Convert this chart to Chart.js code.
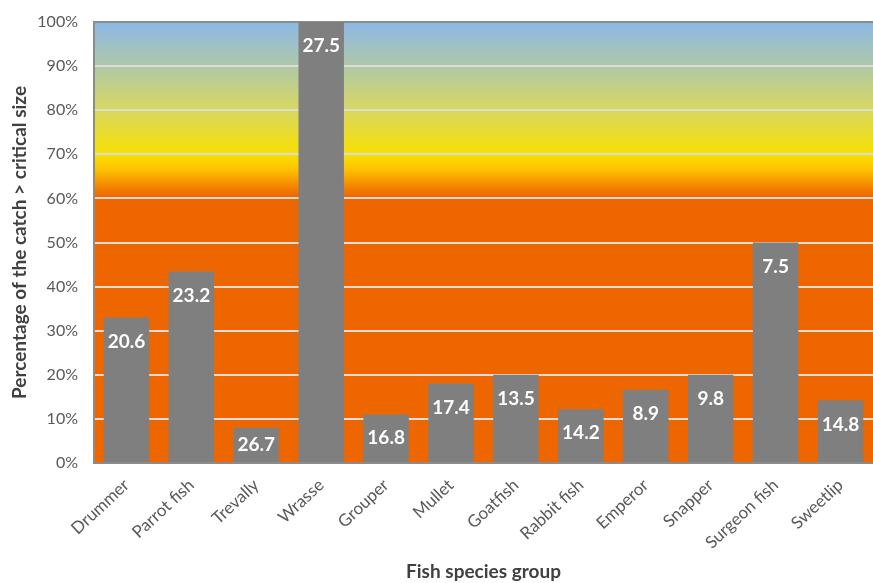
<!DOCTYPE html>
<html lang="en">
<head>
    <meta charset="UTF-8">
    <title>Fish species group</title>
    <script src="https://cdn.jsdelivr.net/npm/chart.js"></script>
    <style>
        html, body { margin: 0; padding: 0; background: #fff; }
        #wrap { width: 873px; height: 583px; }
    </style>
</head>
<body>
    <div id="wrap"><canvas id="fishChart"></canvas></div>

    <script>
        const species = ['Drummer', 'Parrot fish', 'Trevally', 'Wrasse', 'Grouper', 'Mullet', 'Goatfish', 'Rabbit fish', 'Emperor', 'Snapper', 'Surgeon fish', 'Sweetlip'];
        // % of catch above critical size
        const pctAbove = [33, 43.4, 8, 100, 11, 18, 20, 12.2, 16.6, 20, 50, 14.2];
        // numbers printed inside the bars
        const barLabels = [20.6, 23.2, 26.7, 27.5, 16.8, 17.4, 13.5, 14.2, 8.9, 9.8, 7.5, 14.8];
        const yTicks = [0, 10, 20, 30, 40, 50, 60, 70, 80, 90, 100];

        const FONT = 'Lato, "Open Sans", sans-serif';

        // colour bands behind the bars
        const bandPlugin = {
            id: 'bands',
            beforeDraw(chart) {
                const { ctx, chartArea: a, scales: { y } } = chart;
                const top = y.getPixelForValue(100), bot = y.getPixelForValue(0);
                const g = ctx.createLinearGradient(0, bot, 0, top);
                const stop = (v, c) => g.addColorStop(v / 100, c);
                stop(0, '#ee6600');
                stop(60.5, '#ee6600');
                stop(63, '#f58a00');
                stop(66.5, '#fdc200');
                stop(70, '#f8e000');
                stop(80, '#d8d860');
                stop(90, '#b0c8a8');
                stop(100, '#8db8e6');
                ctx.save();
                ctx.fillStyle = g;
                ctx.fillRect(a.left, a.top, a.right - a.left, a.bottom - a.top);
                ctx.restore();
            }
        };

        const labelPlugin = {
            id: 'barText',
            afterDatasetsDraw(chart) {
                const { ctx } = chart;
                const meta = chart.getDatasetMeta(0);
                ctx.save();
                ctx.font = 'bold 19px ' + FONT;
                ctx.fillStyle = '#ffffff';
                ctx.textAlign = 'center';
                ctx.textBaseline = 'middle';
                meta.data.forEach((bar, i) => {
                    // short bars get the label centred
                    const off = Math.min(24, (bar.base - bar.y) / 2);
                    ctx.fillText(barLabels[i].toFixed(1), bar.x, bar.y + off);
                });
                ctx.restore();
            }
        };

        new Chart(document.getElementById('fishChart'), {
            type: 'bar',
            data: {
                labels: species,
                datasets: [{
                    data: pctAbove,
                    backgroundColor: '#7f7f7f',
                    barPercentage: 0.7,
                    categoryPercentage: 1
                }]
            },
            plugins: [bandPlugin, labelPlugin],
            options: {
                responsive: true,
                maintainAspectRatio: false,
                animation: false,
                layout: { padding: { top: 6, right: 0, left: 8, bottom: 0 } },
                plugins: { legend: { display: false }, tooltip: { enabled: false } },
                scales: {
                    x: {
                        afterFit: s => { s.height = 120; },
                        grid: { display: false },
                        border: { color: '#8c8c8c', width: 2 },
                        ticks: {
                            color: '#595959',
                            font: { family: FONT, size: 17 },
                            maxRotation: 43, minRotation: 43,
                            padding: 4
                        },
                        title: {
                            display: true,
                            text: 'Fish species group',
                            color: '#404040',
                            font: { family: FONT, size: 19, weight: 'bold' },
                            padding: { top: 8, bottom: 0 }
                        }
                    },
                    y: {
                        min: 0, max: 100,
                        afterFit: s => { s.width = 86; s.paddingTop = 22; },
                        afterBuildTicks: s => { s.ticks = yTicks.map(v => ({ value: v })); },
                        grid: {
                            drawTicks: false,
                            color: c => c.tick && c.tick.value === 100 ? '#8c8c8c' : '#dcdcdc',
                            lineWidth: 2
                        },
                        border: { color: '#8c8c8c', width: 2 },
                        ticks: {
                            color: '#595959',
                            font: { family: FONT, size: 16 },
                            padding: 16,
                            callback: v => v + '%'
                        },
                        title: {
                            display: true,
                            text: 'Percentage of the catch > critical size',
                            color: '#404040',
                            font: { family: FONT, size: 19, weight: 'bold' },
                            padding: { top: 0, bottom: 6 }
                        }
                    }
                }
            }
        });
    </script>
</body>
</html>
